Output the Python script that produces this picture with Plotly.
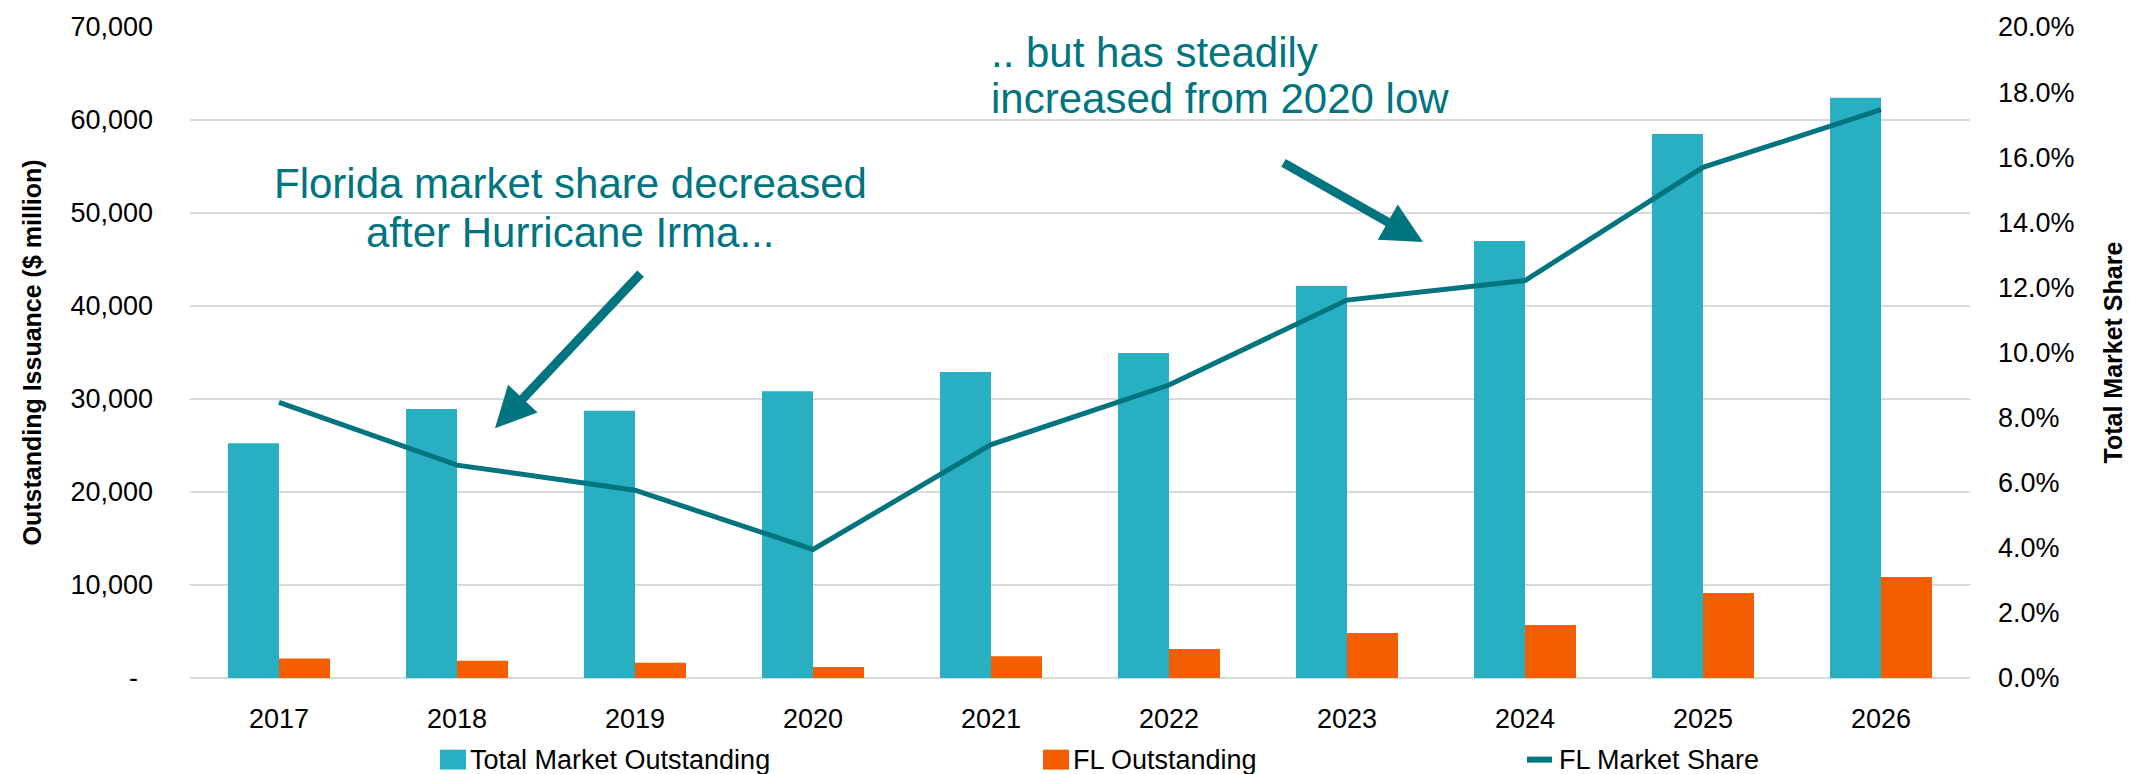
import plotly.graph_objects as go

# Data
years = ["2017", "2018", "2019", "2020", "2021", "2022", "2023", "2024", "2025", "2026"]
total_outstanding = [25230, 28930, 28750, 30820, 32900, 34950, 42150, 47000, 58500, 62380]
fl_outstanding = [2100, 1850, 1640, 1170, 2350, 3130, 4850, 5700, 9130, 10850]
fl_share = [0.0847, 0.0654, 0.0577, 0.0395, 0.0717, 0.0900, 0.1161, 0.1221, 0.1569, 0.1746]

left_ticks = [0, 10000, 20000, 30000, 40000, 50000, 60000, 70000]
left_tick_text = ["-\u00a0\u00a0", "10,000", "20,000", "30,000", "40,000", "50,000", "60,000", "70,000"]
right_ticks = [0.00, 0.02, 0.04, 0.06, 0.08, 0.10, 0.12, 0.14, 0.16, 0.18, 0.20]

# Styling
TEAL = "#29AFC2"
ORANGE = "#F25E00"
DARK_TEAL = "#00747F"
GRID = "#D9D9D9"
FONT = "Liberation Sans, Arial, sans-serif"

W, H = 2139, 774
L, R, T, B = 190, 1970, 24, 678  # plot area in pixels


def px_x(x):
    return (x - L) / (R - L)


def px_y(y):
    return (B - y) / (B - T)


fig = go.Figure()

fig.add_trace(go.Bar(
    x=years, y=total_outstanding, name="Total Market Outstanding",
    marker=dict(color=TEAL, line=dict(width=0)), showlegend=False,
))
fig.add_trace(go.Bar(
    x=years, y=fl_outstanding, name="FL Outstanding",
    marker=dict(color=ORANGE, line=dict(width=0)), showlegend=False,
))
fig.add_trace(go.Scatter(
    x=years, y=fl_share, name="FL Market Share", yaxis="y2", mode="lines",
    line=dict(color=DARK_TEAL, width=5), showlegend=False,
))

annotations = []
shapes = []

# Callout text
callout_font = dict(family=FONT, size=42, color=DARK_TEAL)
for text, x, y, anchor in [
    ("Florida market share decreased", 570, 181, "center"),
    ("after Hurricane Irma...", 570, 230, "center"),
    (".. but has steadily", 989, 50, "left"),
    ("increased from 2020 low", 989, 96, "left"),
]:
    annotations.append(dict(
        text=text, x=px_x(x), y=px_y(y), xref="paper", yref="paper",
        xanchor=anchor, yanchor="middle", showarrow=False, font=callout_font,
    ))

# Callout arrows (tip position, tail offset in px)
for tip, tail in [((495, 427), (642, 271)), ((1423, 240), (1282, 160))]:
    annotations.append(dict(
        text="", x=px_x(tip[0]), y=px_y(tip[1]), xref="paper", yref="paper",
        ax=tail[0] - tip[0], ay=tail[1] - tip[1], showarrow=True,
        arrowhead=2, arrowsize=0.9, arrowwidth=9, arrowcolor=DARK_TEAL, standoff=0,
    ))

# Axis titles
title_font = dict(family=FONT, size=25, color="#000000")
annotations.append(dict(
    text="<b>Outstanding Issuance ($ million)</b>", x=px_x(31), y=0.5,
    xref="paper", yref="paper", textangle=-90, showarrow=False,
    xanchor="center", yanchor="middle", font=title_font,
))
annotations.append(dict(
    text="<b>Total Market Share</b>", x=px_x(2112), y=0.5,
    xref="paper", yref="paper", textangle=-90, showarrow=False,
    xanchor="center", yanchor="middle", font=title_font,
))

# Legend row
legend_font = dict(family=FONT, size=27, color="#000000")
legend_y = 760
for color, kind, x0, x1, label in [
    (TEAL, "box", 440, 466, "Total Market Outstanding"),
    (ORANGE, "box", 1043, 1069, "FL Outstanding"),
    (DARK_TEAL, "line", 1524, 1555, "FL Market Share"),
]:
    if kind == "box":
        shapes.append(dict(
            type="rect", xref="paper", yref="paper",
            x0=px_x(x0), x1=px_x(x1), y0=px_y(legend_y - 10), y1=px_y(legend_y + 10),
            fillcolor=color, line=dict(width=0),
        ))
    else:
        shapes.append(dict(
            type="line", xref="paper", yref="paper",
            x0=px_x(x0 + 3), x1=px_x(x1 - 3), y0=px_y(legend_y), y1=px_y(legend_y),
            line=dict(color=color, width=6),
        ))
    annotations.append(dict(
        text=label, x=px_x(x1 + 2), y=px_y(legend_y), xref="paper", yref="paper",
        xanchor="left", yanchor="middle", showarrow=False, font=legend_font,
    ))

fig.update_layout(
    width=W, height=H, autosize=False,
    margin=dict(l=L, r=W - R, t=T, b=H - B, pad=0),
    paper_bgcolor="white", plot_bgcolor="white",
    barmode="group", bargap=0.427, bargroupgap=0,
    font=dict(family=FONT, size=27, color="#000000"),
    annotations=annotations, shapes=shapes,
    xaxis=dict(
        type="category", categoryorder="array", categoryarray=years,
        showgrid=False, showline=False, ticks="",
        tickfont=dict(family=FONT, size=27, color="#000000"),
        ticklabelstandoff=22,
    ),
    yaxis=dict(
        range=[0, 70000], tickvals=left_ticks, ticktext=left_tick_text,
        showgrid=True, gridcolor=GRID, gridwidth=1.5,
        zeroline=True, zerolinecolor=GRID, zerolinewidth=1.5,
        showline=False, ticks="",
        tickfont=dict(family=FONT, size=27, color="#000000"),
        ticklabelstandoff=36,
    ),
    yaxis2=dict(
        range=[0, 0.20], tickvals=right_ticks, tickformat=".1%",
        overlaying="y", side="right", showgrid=False, zeroline=False,
        showline=False, ticks="",
        tickfont=dict(family=FONT, size=27, color="#000000"),
        ticklabelstandoff=27,
    ),
)

fig.write_html("out.html")
